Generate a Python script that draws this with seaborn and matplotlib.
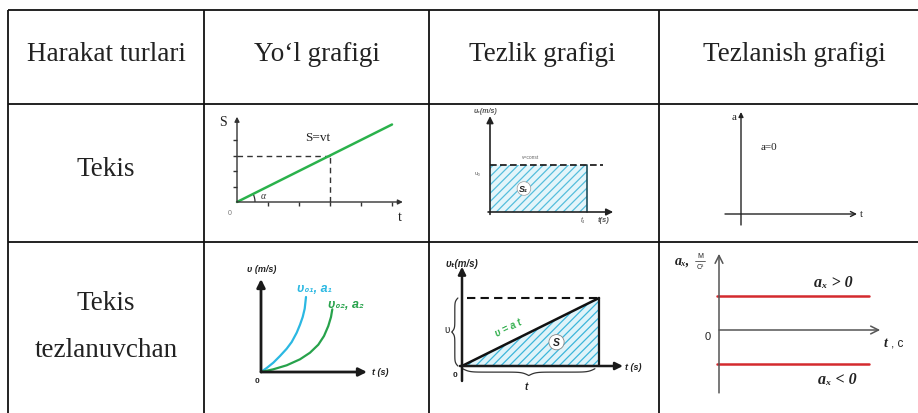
# Harakat turlari jadvali: yo'l, tezlik va tezlanish grafiklari
import numpy as np
import pandas as pd
import matplotlib
matplotlib.use("Agg")
import matplotlib.pyplot as plt
import seaborn as sns
from matplotlib.patches import Arc


# ============================================
# Data
# ============================================

HEADERS = ["Harakat turlari", "Yo\u2018l grafigi", "Tezlik grafigi", "Tezlanish grafigi"]
ROW_LABELS = [["Tekis"], ["Tekis", "tezlanuvchan"]]

# Tekis: S = v t
path_t = [0, 5]
path_s = [0, 5]
mark_t = 3
mark_s = 3
y_ticks = [1, 2, 3, 4]
x_ticks = [1, 2, 3, 4, 5]

# Tekis: v = const
const_t = [0, 1]
const_v = [1, 1]

# Tekis tezlanuvchan: two v(t) curves
curve1_t = [0, 0.57, 1.23, 1.9, 2.57, 3.07, 3.57, 3.9, 4.17, 4.37, 4.5]
curve1_v = [0, 0.4, 0.93, 1.6, 2.33, 3.0, 3.93, 4.73, 5.5, 6.33, 7.5]
curve2_t = [0, 1.23, 2.57, 3.9, 4.9, 5.73, 6.3, 6.73, 7.0, 7.13]
curve2_v = [0, 0.27, 0.67, 1.27, 1.93, 2.73, 3.6, 4.6, 5.5, 6.27]

# Tekis tezlanuvchan: v = a t
lin_t = [0, 1]
lin_v = [0, 1]

# Tekis tezlanuvchan: a_x > 0 and a_x < 0
acc_levels = [1, -1]
acc_t = [-0.06, 4.41]


# ============================================
# Style
# ============================================

sns.set_theme(style="white")
plt.rcParams["font.family"] = ["Liberation Serif", "DejaVu Serif"]
plt.rcParams["hatch.linewidth"] = 0.9

W, H = 918, 414
INK = "#222222"
SANS = ["Liberation Sans", "DejaVu Sans"]

fig = plt.figure(figsize=(W / 100, H / 100), dpi=100)

tab = fig.add_axes([0, 0, 1, 1])
tab.set_xlim(0, W)
tab.set_ylim(H, 0)
tab.axis("off")

col_edges = [8, 204, 429, 659, 930]
row_edges = [11, 105, 243, 430]

tab.hlines(row_edges[:3], col_edges[0], col_edges[-1], color="#111111", lw=1.3)
tab.vlines(col_edges[:4], row_edges[0], row_edges[-1], color="#111111", lw=1.3)

header_x = [106, 317, 542, 794]
for x, label in zip(header_x, HEADERS):
    tab.text(x, 61, label, ha="center", va="baseline", fontsize=19.5, color=INK)

tab.text(106, 176, ROW_LABELS[0][0], ha="center", va="baseline", fontsize=19.5, color=INK)
tab.text(106, 310, ROW_LABELS[1][0], ha="center", va="baseline", fontsize=19.5, color=INK)
tab.text(106, 357, ROW_LABELS[1][1], ha="center", va="baseline", fontsize=19.5, color=INK)


# ============================================
# Helpers
# ============================================

def make_inset(origin, unit, xlim, ylim):
    """
    Axes placed so that data (0, 0) lands on origin (pixels)
    """
    ox, oy = origin
    ux, uy = unit
    left = ox + xlim[0] * ux
    right = ox + xlim[1] * ux
    top = oy - ylim[1] * uy
    bottom = oy - ylim[0] * uy
    ax = fig.add_axes([left / W, 1 - bottom / H, (right - left) / W, (bottom - top) / H])
    ax.set_xlim(xlim)
    ax.set_ylim(ylim)
    ax.axis("off")
    return ax


def arrow(ax, start, end, color=INK, lw=1.0, style="-|>", scale=8):
    ax.annotate(
        "",
        xy=end,
        xytext=start,
        arrowprops=dict(arrowstyle=style, color=color, lw=lw,
                        shrinkA=0, shrinkB=0, mutation_scale=scale),
        annotation_clip=False,
    )


def brace_shape(n=121, beta=40):
    s = np.linspace(0, 1, n)
    half = s[: n // 2 + 1]
    f = 1 / (1 + np.exp(-beta * (half - half[0]))) + 1 / (1 + np.exp(-beta * (half - half[-1])))
    f = np.concatenate([f, f[-2::-1]])
    g = (f - f.min()) / (f.max() - f.min())
    return s, g


# ============================================
# Tekis - yo'l grafigi
# ============================================

ax = make_inset((237, 203), (31, 15.5), (-1.0, 5.9), (-1.6, 6.0))
arrow(ax, (0, 0), (0, 5.5), color="#333333", lw=1.0, scale=7)
arrow(ax, (0, 0), (5.35, 0), color="#333333", lw=1.0, scale=7)
ax.hlines(y_ticks, -0.13, 0, color="#333333", lw=1.0)
ax.vlines(x_ticks, -0.26, 0, color="#333333", lw=1.0)
ax.plot([0, mark_t], [mark_s, mark_s], ls=(0, (4, 3)), color="#333333", lw=1.0)
ax.plot([mark_t, mark_t], [0, mark_s], ls=(0, (4, 3)), color="#333333", lw=1.0)
sns.lineplot(x=path_t, y=path_s, color="#2bb24c", lw=1.8, ax=ax)
ax.add_patch(Arc((0, 0), 36 / 31, 36 / 15.5, theta1=0, theta2=45, color="#333333", lw=0.9))
ax.text(-0.45, 5.2, "S", fontsize=10, ha="center", va="center", color=INK)
ax.text(2.6, 4.2, "S=vt", fontsize=9.5, ha="center", va="center", color=INK)
ax.text(-0.23, -0.65, "0", fontsize=5, ha="center", va="center", color="#777777", family=SANS)
ax.text(5.26, -0.95, "t", fontsize=10, ha="center", va="center", color=INK)
ax.text(0.85, 0.42, "\u03b1", fontsize=7, ha="center", va="center", color="#333333",
        style="italic")
ax.axis("off")


# ============================================
# Tekis - tezlik grafigi
# ============================================

ax = make_inset((490, 213), (97, 47), (-0.3, 1.6), (-0.35, 2.3))
ax.fill_between(const_t, 0, const_v, facecolor="#e4f5fa", edgecolor="#55bedc",
                hatch="////", lw=0)
ax.plot([const_t[-1], const_t[-1]], [0, const_v[-1]], color="#1e4f5c", lw=1.2)
ax.plot([0, 1.165], [const_v[0], const_v[0]], ls=(0, (4, 2)), color="#111111", lw=1.2)
arrow(ax, (0, -0.05), (0, 2.04), color=INK, lw=1.2, scale=10)
arrow(ax, (-0.02, 0), (1.27, 0), color=INK, lw=1.2, scale=10)
ax.text(0.35, 0.5, "S\u2081", fontsize=6.5, ha="center", va="center", color=INK,
        family=SANS, weight="bold", style="italic",
        bbox=dict(boxstyle="circle,pad=0.25", fc="white", ec="#999999", lw=0.5))
ax.text(-0.05, 2.17, "\u03c5\u2093(m/s)", fontsize=5, ha="center", va="center",
        color="#555555", family=SANS, style="italic", weight="bold")
ax.text(0.42, 1.19, "v=const", fontsize=3.5, ha="center", va="center", color="#666666",
        family=SANS)
ax.text(-0.13, 0.83, "\u03c5\u2080", fontsize=4.5, ha="center", va="center",
        color="#666666", family=SANS)
ax.text(0.96, -0.16, "t\u2081", fontsize=5, ha="center", va="center", color="#555555",
        family=SANS, style="italic")
ax.text(1.11, -0.16, "t(s)", fontsize=5.5, ha="left", va="center", color="#555555",
        family=SANS, style="italic", weight="bold")


# ============================================
# Tekis - tezlanish grafigi
# ============================================

ax = make_inset((741, 215), (50, 50), (-0.6, 2.8), (-0.4, 2.2))
arrow(ax, (0, -0.22), (0, 2.04), color="#222222", lw=1.0, scale=7)
arrow(ax, (-0.32, 0), (2.32, 0), color="#222222", lw=1.0, style="->", scale=9)
ax.text(-0.14, 1.96, "a", fontsize=8, ha="center", va="center", color=INK)
ax.text(0.56, 1.34, "a=0", fontsize=8, ha="center", va="center", color=INK)
ax.text(2.4, 0.0, "t", fontsize=8, ha="center", va="center", color=INK)


# ============================================
# Tekis tezlanuvchan - yo'l (tezlik) grafigi
# ============================================

ax = make_inset((261, 373), (10, 10), (-2.5, 14.0), (-1.8, 11.2))
curves = pd.concat([
    pd.DataFrame({"t": curve1_t, "v": curve1_v, "curve": "1"}),
    pd.DataFrame({"t": curve2_t, "v": curve2_v, "curve": "2"}),
])
sns.lineplot(data=curves, x="t", y="v", hue="curve",
             palette={"1": "#2bb8e2", "2": "#27a24b"},
             estimator=None, sort=False, lw=1.6, legend=False, ax=ax)
arrow(ax, (0, 0), (0, 9.3), color="#1a1a1a", lw=2.0, scale=12)
arrow(ax, (0, 0), (10.6, 0), color="#1a1a1a", lw=2.0, scale=12)
ax.text(-1.4, 10.3, "\u03c5 (m/s)", fontsize=6.5, ha="left", va="center", color=INK,
        family=SANS, style="italic", weight="bold")
ax.text(-0.4, -0.9, "0", fontsize=6, ha="center", va="center", color=INK,
        family=SANS, weight="bold")
ax.text(11.1, 0, "t (s)", fontsize=6.5, ha="left", va="center", color=INK,
        family=SANS, style="italic", weight="bold")
ax.text(3.6, 8.4, "\u03c5\u2080\u2081, a\u2081", fontsize=9, ha="left", va="center",
        color="#2bb8e2", family=SANS, style="italic", weight="bold")
ax.text(6.7, 6.8, "\u03c5\u2080\u2082, a\u2082", fontsize=9, ha="left", va="center",
        color="#27a24b", family=SANS, style="italic", weight="bold")
ax.axis("off")


# ============================================
# Tekis tezlanuvchan - tezlik grafigi
# ============================================

ax = make_inset((462, 367), (137, 68), (-0.25, 1.35), (-0.45, 1.65))
ax.fill_between(lin_t, 0, lin_v, facecolor="#dff3f9", edgecolor="#3cb6da",
                hatch="////", lw=0)
sns.lineplot(x=lin_t, y=lin_v, color="#111111", lw=1.8, ax=ax)
ax.plot([lin_t[-1], lin_t[-1]], [0, lin_v[-1]], color="#1a1a1a", lw=1.6)
ax.plot([0.04, lin_t[-1]], [lin_v[-1], lin_v[-1]], ls=(0, (4, 2.5)), color="#111111", lw=1.5)
arrow(ax, (0, -0.22), (0, 1.46), color="#1a1a1a", lw=1.8, scale=11)
arrow(ax, (-0.015, 0), (1.175, 0), color="#1a1a1a", lw=1.8, scale=11)

s, g = brace_shape()
ax.plot(-0.03 - 0.045 * g, s * lin_v[-1], color="#333333", lw=0.9)
ax.plot(0.005 + s * 0.965, -0.04 - 0.1 * g, color="#333333", lw=0.9)

ax.text(-0.11, 0.54, "\u03c5", fontsize=7, ha="center", va="center", color=INK, family=SANS)
ax.text(0.47, -0.3, "t", fontsize=7, ha="center", va="center", color=INK,
        family=SANS, style="italic", weight="bold")
ax.text(0.34, 0.57, "\u03c5 = a t", fontsize=7, ha="center", va="center", color="#34b04f",
        family=SANS, style="italic", weight="bold", rotation=26)
ax.text(0.69, 0.35, "S", fontsize=7.5, ha="center", va="center", color=INK,
        family=SANS, style="italic", weight="bold",
        bbox=dict(boxstyle="circle,pad=0.25", fc="white", ec="#888888", lw=0.6))
ax.text(0.0, 1.52, "\u03c5\u209c(m/s)", fontsize=7, ha="center", va="center", color=INK,
        family=SANS, style="italic", weight="bold")
ax.text(-0.05, -0.12, "0", fontsize=6, ha="center", va="center", color=INK,
        family=SANS, weight="bold")
ax.text(1.19, 0, "t (s)", fontsize=6.5, ha="left", va="center", color=INK,
        family=SANS, style="italic", weight="bold")
ax.axis("off")


# ============================================
# Tekis tezlanuvchan - tezlanish grafigi
# ============================================

ax = make_inset((719, 331), (34, 34), (-1.8, 5.9), (-2.3, 2.6))
levels = pd.concat([
    pd.DataFrame({"t": acc_t, "a": [lvl, lvl], "sign": str(lvl)}) for lvl in acc_levels
])
sns.lineplot(data=levels, x="t", y="a", units="sign", estimator=None,
             color="#d42a2e", lw=1.8, ax=ax)
arrow(ax, (0, -1.85), (0, 2.24), color="#555555", lw=1.1, style="->", scale=14)
arrow(ax, (0, 0), (4.74, 0), color="#555555", lw=1.1, style="->", scale=14)
ax.text(-1.3, 2.05, "a\u2093,", fontsize=10, ha="left", va="center", color=INK,
        style="italic", weight="bold")
ax.text(-0.55, 2.2, "\u041c", fontsize=5, ha="center", va="center", color=INK, family=SANS)
ax.plot([-0.7, -0.4], [2.03, 2.03], color=INK, lw=0.5, clip_on=False)
ax.text(-0.55, 1.86, "\u0421\u00b2", fontsize=5, ha="center", va="center", color=INK,
        family=SANS)
ax.text(3.35, 1.41, "a\u2093 > 0", fontsize=11.5, ha="center", va="center", color=INK,
        style="italic", weight="bold")
ax.text(3.47, -1.44, "a\u2093 < 0", fontsize=11.5, ha="center", va="center", color=INK,
        style="italic", weight="bold")
ax.text(-0.32, -0.18, "0", fontsize=8, ha="center", va="center", color=INK, family=SANS)
ax.text(4.85, -0.38, "t", fontsize=10, ha="left", va="center", color=INK,
        style="italic", weight="bold")
ax.text(5.05, -0.38, ", \u0441", fontsize=8.5, ha="left", va="center", color=INK, family=SANS)
ax.axis("off")


fig.savefig("out.png", dpi=100)
